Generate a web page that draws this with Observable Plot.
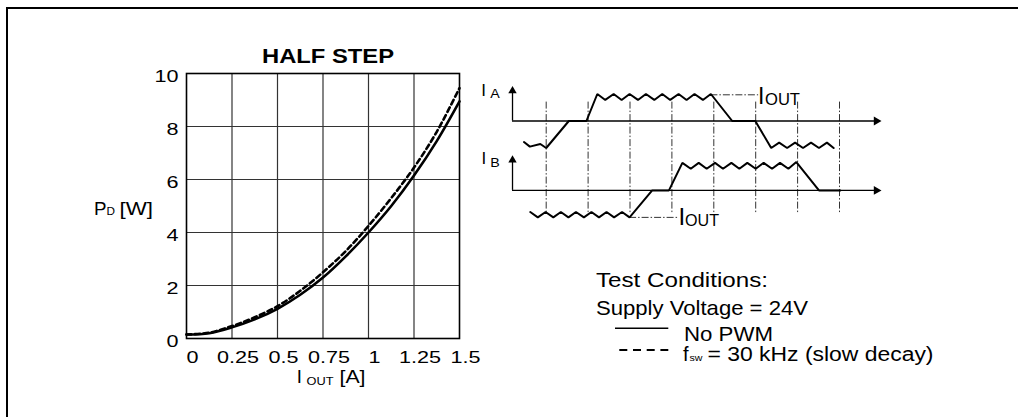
<!DOCTYPE html>
<html><head><meta charset="utf-8">
<script src="https://cdn.jsdelivr.net/npm/d3@7"></script>
<script src="https://cdn.jsdelivr.net/npm/@observablehq/plot@0.6"></script>
<style>
html,body{margin:0;padding:0;background:#fff;overflow:hidden;}
#wrap{position:relative;width:1018px;height:417px;overflow:hidden;font-family:"Liberation Sans",Arial,sans-serif;}
#wrap svg{position:absolute;left:0;top:0;}
#box{position:absolute;left:6px;top:7px;width:1100px;height:500px;border:2px solid #000;box-sizing:border-box;}
</style></head><body>
<div id="wrap"><div id="box"></div></div>
<script>
// ---- chart data ----
const iout = [0, 0.125, 0.25, 0.375, 0.5, 0.625, 0.75, 0.875, 1.0, 1.125, 1.25, 1.375, 1.5];
const pdNoPwm = [0.15, 0.2, 0.42, 0.72, 1.12, 1.65, 2.3, 3.1, 4.0, 5.0, 6.15, 7.45, 8.95];
const pdPwm30k = [0.15, 0.22, 0.47, 0.8, 1.22, 1.8, 2.5, 3.3, 4.25, 5.3, 6.45, 7.8, 9.45];
const xTicks = [0, 0.25, 0.5, 0.75, 1, 1.25, 1.5];
const yTicks = [0, 2, 4, 6, 8, 10];
const xGrid = [0.25, 0.5, 0.75, 1, 1.25];
const yGrid = [2, 4, 6, 8];

// ---- waveform diagram data: [time in switching periods, current / I_OUT] ----
const waveA = [[0.47,-0.78],[0.61,-0.95],[0.86,-0.85],[1.0,-1],[1.54,0],[1.96,0],[2.22,1],[2.41,0.78],[2.61,1],[2.80,0.78],[2.99,1],[3.19,0.78],[3.38,1],[3.58,0.78],[3.77,1],[3.96,0.78],[4.16,1],[4.35,0.78],[4.54,1],[4.74,0.78],[4.93,1],[5.44,0],[5.99,0],[6.37,-1],[6.56,-0.8],[6.75,-1],[6.94,-0.8],[7.13,-1],[7.32,-0.8],[7.51,-1],[7.70,-0.8],[7.86,-1]];
const waveB = [[0.62,-0.8],[0.80,-1],[0.985,-0.8],[1.17,-1],[1.35,-0.8],[1.53,-1],[1.71,-0.8],[1.90,-1],[2.08,-0.8],[2.26,-1],[2.44,-0.8],[2.62,-1],[2.81,-0.8],[2.99,-1],[3.53,0],[3.93,0],[4.25,1.02],[4.45,0.8],[4.64,1.02],[4.83,0.8],[5.03,1.02],[5.22,0.8],[5.42,1.02],[5.61,0.8],[5.80,1.02],[6.0,0.8],[6.19,1.02],[6.39,0.8],[6.58,1.02],[6.78,0.8],[6.97,1.05],[7.51,0],[8.02,0]];
const stepTimes = [1, 2, 3, 4, 5, 6, 7, 8];
const ioutRefA = [4.93, 6.07];
const ioutRefB = [2.99, 4.16];

const FONT = "Liberation Sans, Arial, sans-serif";
const wrap = document.getElementById("wrap");

const rowsNo = iout.map((x, i) => ({x, y: pdNoPwm[i]}));
const rowsPwm = iout.map((x, i) => ({x, y: pdPwm30k[i]}));

const chart = Plot.plot({
  width: 1018, height: 417,
  marginLeft: 186, marginRight: 559, marginTop: 73, marginBottom: 79,
  style: {fontFamily: FONT, fontSize: "16px", color: "#000", background: "transparent", overflow: "visible"},
  x: {domain: [0, 1.5]},
  y: {domain: [0, 10]},
  marks: [
    Plot.gridX(xGrid, {stroke: "#333", strokeOpacity: 1, strokeWidth: 1.2}),
    Plot.gridY(yGrid, {stroke: "#333", strokeOpacity: 1, strokeWidth: 1.2}),
    Plot.axisX(xTicks, {tickSize: 0, tickPadding: 13, dx: 6, label: null, tickFormat: d => String(d), fontSize: 16}),
    Plot.axisY(yTicks, {tickSize: 0, tickPadding: 8, dy: 3, label: null, tickFormat: d => String(d), fontSize: 16}),
    Plot.line(rowsPwm, {x: "x", y: "y", curve: "catmull-rom", stroke: "#000", strokeWidth: 2.6, strokeDasharray: "5,3.5"}),
    Plot.line(rowsNo, {x: "x", y: "y", curve: "catmull-rom", stroke: "#000", strokeWidth: 2.6}),
    Plot.frame({stroke: "#000", strokeWidth: 1.6})
  ]
});
wrap.appendChild(chart);

const CH_GAP = 2.57; // vertical distance between the I_A and I_B axes (in I_OUT units)
const diag = Plot.plot({
  width: 1018, height: 417,
  style: {background: "transparent", overflow: "visible"},
  x: {domain: [0, 9], range: [503.8, 880.9], axis: null},
  y: {domain: [0, 1], range: [120.5, 93.5], axis: null},
  marks: [
    Plot.ruleX(stepTimes, {y1: () => 0.7, y2: () => -3.43, stroke: "#333", strokeWidth: 1, strokeDasharray: "7,2,1.5,2"}),
    Plot.ruleY([ioutRefA], {x1: d => d[0], x2: d => d[1], y: () => 0.97, stroke: "#333", strokeWidth: 1, strokeDasharray: "7,2,1.5,2"}),
    Plot.ruleY([ioutRefB], {x1: d => d[0], x2: d => d[1], y: () => -1 - CH_GAP, stroke: "#333", strokeWidth: 1, strokeDasharray: "7,2,1.5,2"}),
    // axes
    Plot.ruleY([0, -CH_GAP], {x1: () => 0.196, x2: () => 8.88, stroke: "#000", strokeWidth: 1.3}),
    Plot.ruleX([0, -CH_GAP], {x: () => 0.196, y1: d => d, y2: d => d + 1.1, stroke: "#000", strokeWidth: 1.3}),
    Plot.dot([0, -CH_GAP], {x: () => 8.88, y: d => d, symbol: "triangle", rotate: 90, r: 3.3, fill: "#000", stroke: null}),
    Plot.dot([0, -CH_GAP], {x: () => 0.196, y: d => d + 1.12, symbol: "triangle", r: 3.1, fill: "#000", stroke: null}),
    // waveforms
    Plot.line(waveA, {x: d => d[0], y: d => d[1], stroke: "#000", strokeWidth: 2, strokeLinejoin: "miter"}),
    Plot.line(waveB, {x: d => d[0], y: d => d[1] - CH_GAP, stroke: "#000", strokeWidth: 2, strokeLinejoin: "miter"})
  ]
});
wrap.appendChild(diag);

// stretch tick labels horizontally like the original artwork
chart.querySelectorAll('g[aria-label="x-axis tick label"] text, g[aria-label="y-axis tick label"] text').forEach(t => {
  const len = t.getComputedTextLength();
  t.setAttribute("textLength", (len * 1.35).toFixed(1));
  t.setAttribute("lengthAdjust", "spacingAndGlyphs");
});

const NS = "http://www.w3.org/2000/svg";
const txt = document.createElementNS(NS, "svg");
txt.setAttribute("width", 1018); txt.setAttribute("height", 417);
txt.setAttribute("font-family", FONT);
txt.innerHTML = `
<text x="328" y="63.3" font-size="21" font-weight="bold" text-anchor="middle" textLength="132" lengthAdjust="spacingAndGlyphs">HALF STEP</text>
<text x="94" y="215" font-size="18.5" textLength="12.5" lengthAdjust="spacingAndGlyphs">P</text>
<text x="106.5" y="215" font-size="11.5" textLength="8.5" lengthAdjust="spacingAndGlyphs">D</text>
<text x="119.5" y="215" font-size="18.5" textLength="33.5" lengthAdjust="spacingAndGlyphs">[W]</text>
<text x="296.8" y="383.3" font-size="18.5">I</text>
<text x="306.5" y="385" font-size="11.5" textLength="27" lengthAdjust="spacingAndGlyphs">OUT</text>
<text x="339.5" y="383.3" font-size="18.5" textLength="26" lengthAdjust="spacingAndGlyphs">[A]</text>
<text x="481.2" y="95.7" font-size="17">I</text>
<text x="490.3" y="98.3" font-size="12" textLength="9.5" lengthAdjust="spacingAndGlyphs">A</text>
<text x="481.5" y="164.3" font-size="17">I</text>
<text x="490.3" y="166.7" font-size="12" textLength="9.5" lengthAdjust="spacingAndGlyphs">B</text>
<text x="758" y="103.5" font-size="23">I</text>
<text x="765" y="105" font-size="16.5" textLength="35" lengthAdjust="spacingAndGlyphs">OUT</text>
<text x="678.5" y="225" font-size="24">I</text>
<text x="685" y="226" font-size="17" textLength="34" lengthAdjust="spacingAndGlyphs">OUT</text>
<text x="596" y="286.7" font-size="21" textLength="172" lengthAdjust="spacingAndGlyphs">Test Conditions:</text>
<text x="596" y="315" font-size="21" textLength="212" lengthAdjust="spacingAndGlyphs">Supply Voltage = 24V</text>
<line x1="615" x2="668.3" y1="328.3" y2="328.3" stroke="#000" stroke-width="1.5"/>
<text x="684" y="341.2" font-size="20" textLength="89" lengthAdjust="spacingAndGlyphs">No PWM</text>
<line x1="619.3" x2="668.3" y1="350" y2="350" stroke="#000" stroke-width="2" stroke-dasharray="8,5.7"/>
<text x="683" y="360.5" font-size="20">f</text>
<text x="689.5" y="360.5" font-size="9" textLength="13" lengthAdjust="spacingAndGlyphs">sw</text>
<text x="707.5" y="360.5" font-size="20" textLength="226" lengthAdjust="spacingAndGlyphs">= 30 kHz (slow decay)</text>
`;
wrap.appendChild(txt);
</script>
</body></html>
